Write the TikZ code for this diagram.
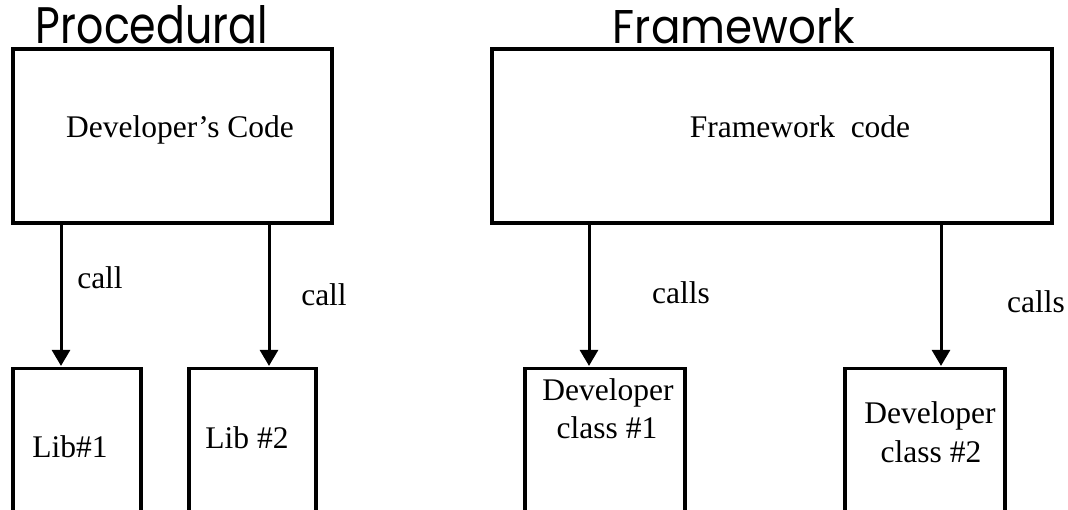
\documentclass[tikz,border=0pt]{standalone}
\usepackage{fontspec}
\usepackage{graphicx}
\setmainfont{Liberation Serif}
\newfontfamily\titlefont{Poppins}
\usetikzlibrary{arrows.meta}

\tikzset{
  box/.style={draw=black, line width=3.2pt, inner sep=0pt, fill=none},
  txt/.style={inner sep=0pt, anchor=base, font=\fontsize{31.5}{38}\selectfont},
  ttl/.style={inner sep=0pt, anchor=base},
  callarrow/.style={draw=black, line width=3pt, -{Triangle[width=18pt 0 0,length=16pt 0 0]}},
}

\begin{document}
\begin{tikzpicture}[x=1pt, y=-1pt]
  \useasboundingbox (0,0) rectangle (1068,509);
  \clip (0,0) rectangle (1068,509);
  \fill[white] (0,0) rectangle (1068,509);

  % ---- titles ----
  \node[ttl] (tproc) at (152,43) {\resizebox{232pt}{38pt}{\titlefont Procedural}};
  \node[ttl] (tfw)   at (734,43) {\resizebox{242pt}{35pt}{\titlefont Framework}};

  % ---- procedural side ----
  \node[box, minimum width=319pt, minimum height=174pt] (dev) at (172.5,136) {};
  \node[txt] (devt) at (180,137) {Developer’s Code};

  \node[box, minimum width=128pt, minimum height=200pt] (lib1) at (77,468.5) {};
  \node[box, minimum width=127pt, minimum height=200pt] (lib2) at (252.5,468.5) {};
  \node[txt] (lib1t) at (70,457) {Lib\#1};
  \node[txt] (lib2t) at (247,448) {Lib \#2};

  \coordinate (a1) at (61,0);
  \coordinate (a2) at (269,0);
  \draw[callarrow] (dev.south -| a1) -- ([yshift=1pt]lib1.north -| a1);
  \draw[callarrow] (dev.south -| a2) -- ([yshift=1pt]lib2.north -| a2);
  \node[txt] (c1) at (100,288) {call};
  \node[txt] (c2) at (324,305) {call};

  % ---- framework side ----
  \node[box, minimum width=560pt, minimum height=174pt] (fw) at (772,136) {};
  \node[txt] (fwt) at (800,137) {Framework\ \ code};

  \node[box, minimum width=160pt, minimum height=200pt] (dc1) at (605,468.5) {};
  \node[box, minimum width=160pt, minimum height=200pt] (dc2) at (925,468.5) {};
  \node[txt] (dc1a) at (608,400) {Developer};
  \node[txt] (dc1b) at (607,438) {class \#1};
  \node[txt] (dc2a) at (930,423) {Developer};
  \node[txt] (dc2b) at (931,462) {class \#2};

  \coordinate (a3) at (589,0);
  \coordinate (a4) at (941,0);
  \draw[callarrow] (fw.south -| a3) -- ([yshift=1pt]dc1.north -| a3);
  \draw[callarrow] (fw.south -| a4) -- ([yshift=1pt]dc2.north -| a4);
  \node[txt] (c3) at (681,303) {calls};
  \node[txt] (c4) at (1036,312) {calls};
\end{tikzpicture}
\end{document}
